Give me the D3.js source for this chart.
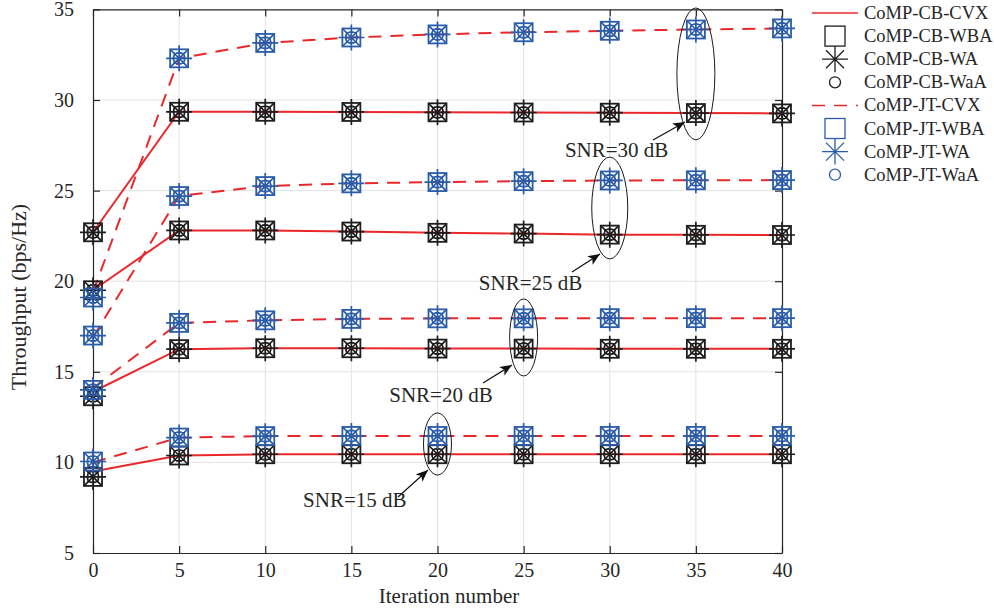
<!DOCTYPE html>
<html>
<head>
<meta charset="utf-8">
<script src="https://cdn.jsdelivr.net/npm/d3@7"></script>
<style>
  body { margin: 0; background: #fff; }
  svg text { font-family: "Liberation Serif", "Times New Roman", serif; fill: #262626; }
</style>
</head>
<body>
<svg id="chart" width="994" height="612"></svg>
<script>
// data (one row per SNR level: 15, 20, 25, 30 dB)
const iterations = [0, 5, 10, 15, 20, 25, 30, 35, 40]
const snrLevels = [15, 20, 25, 30]

const cbCvx = [
  [9.5, 10.38, 10.45, 10.45, 10.45, 10.45, 10.45, 10.45, 10.45],
  [13.9, 16.25, 16.3, 16.3, 16.28, 16.28, 16.27, 16.27, 16.27],
  [19.5, 22.8, 22.8, 22.74, 22.67, 22.63, 22.57, 22.56, 22.55],
  [22.7, 29.35, 29.35, 29.34, 29.32, 29.31, 29.3, 29.28, 29.26]
]
// CB-WBA / CB-WA / CB-WaA overlap at every point
const cbAlt = [
  [9.2, 10.38, 10.45, 10.45, 10.45, 10.45, 10.45, 10.45, 10.45],
  [13.65, 16.25, 16.3, 16.3, 16.28, 16.28, 16.27, 16.27, 16.27],
  [19.5, 22.8, 22.8, 22.74, 22.67, 22.63, 22.57, 22.56, 22.55],
  [22.7, 29.35, 29.35, 29.34, 29.32, 29.31, 29.3, 29.28, 29.26]
]
const jtCvx = [
  [10.0, 11.37, 11.45, 11.46, 11.46, 11.46, 11.46, 11.46, 11.46],
  [14.1, 17.7, 17.84, 17.92, 17.95, 17.95, 17.96, 17.96, 17.96],
  [16.9, 24.7, 25.25, 25.4, 25.47, 25.52, 25.56, 25.57, 25.58],
  [19.4, 32.3, 33.15, 33.45, 33.62, 33.74, 33.82, 33.89, 33.95]
]
// JT-WBA / JT-WA / JT-WaA
const jtAlt = [
  [10.05, 11.37, 11.45, 11.46, 11.46, 11.46, 11.46, 11.46, 11.46],
  [14.0, 17.7, 17.84, 17.92, 17.95, 17.95, 17.96, 17.96, 17.96],
  [17.0, 24.7, 25.25, 25.4, 25.47, 25.52, 25.56, 25.57, 25.58],
  [19.1, 32.3, 33.15, 33.45, 33.62, 33.74, 33.82, 33.89, 33.95]
]

const xTicks = [0, 5, 10, 15, 20, 25, 30, 35, 40]
const yTicks = [5, 10, 15, 20, 25, 30, 35]

const legendLabels = ['CoMP-CB-CVX', 'CoMP-CB-WBA', 'CoMP-CB-WA', 'CoMP-CB-WaA',
                      'CoMP-JT-CVX', 'CoMP-JT-WBA', 'CoMP-JT-WA', 'CoMP-JT-WaA']

const red = '#ea282b'
const black = '#1e1e1e'
const blue = '#2a5caa'
const axisColor = '#262626'
const gridColor = '#e3e3e3'

const svg = d3.select('#chart')
const plotLeft = 93, plotRight = 782, plotTop = 9.4, plotBottom = 553

const xScale = d3.scaleLinear().domain([0, 40]).range([plotLeft, plotRight])
const yScale = d3.scaleLinear().domain([5, 35]).range([plotBottom, plotTop])

// grid
svg.append('g').selectAll('line').data(xTicks.slice(1, -1)).enter().append('line')
  .attr('x1', d => xScale(d)).attr('x2', d => xScale(d))
  .attr('y1', plotTop).attr('y2', plotBottom)
  .attr('stroke', gridColor).attr('stroke-width', 1)
svg.append('g').selectAll('line').data(yTicks.slice(1, -1)).enter().append('line')
  .attr('x1', plotLeft).attr('x2', plotRight)
  .attr('y1', d => yScale(d)).attr('y2', d => yScale(d))
  .attr('stroke', gridColor).attr('stroke-width', 1)

// axes (ticks point inward)
const styleAxis = g => {
  g.selectAll('path.domain').attr('stroke', axisColor).attr('stroke-width', 1.2)
  g.selectAll('.tick line').attr('stroke', axisColor).attr('stroke-width', 1.2)
  g.selectAll('.tick text')
    .style('font-family', '"Liberation Serif", serif')
    .style('font-size', '20px').attr('fill', axisColor)
}
svg.append('g').attr('transform', `translate(0,${plotBottom})`)
  .call(d3.axisBottom(xScale).tickValues(xTicks).tickSize(-7).tickPadding(10).tickSizeOuter(0))
  .call(styleAxis)
svg.append('g').attr('transform', `translate(0,${plotTop})`)
  .call(d3.axisTop(xScale).tickValues(xTicks).tickSize(-7).tickFormat('').tickSizeOuter(0))
  .call(styleAxis)
svg.append('g').attr('transform', `translate(${plotLeft},0)`)
  .call(d3.axisLeft(yScale).tickValues(yTicks).tickSize(-7).tickPadding(19).tickSizeOuter(0))
  .call(styleAxis)
svg.append('g').attr('transform', `translate(${plotRight},0)`)
  .call(d3.axisRight(yScale).tickValues(yTicks).tickSize(-7).tickFormat('').tickSizeOuter(0))
  .call(styleAxis)

// lines
const line = d3.line().x((d, i) => xScale(iterations[i])).y(d => yScale(d))
const drawLines = (rows, dash) => {
  svg.append('g').selectAll('path').data(rows).enter().append('path')
    .attr('d', line)
    .attr('fill', 'none')
    .attr('stroke', red)
    .attr('stroke-width', 2)
    .attr('stroke-dasharray', dash)
}
drawLines(cbCvx, null)
drawLines(jtCvx, '13,9')

// markers: square (WBA), asterisk (WA), circle (WaA)
const drawMarker = (g, cx, cy, color) => {
  const s = 9
  g.append('rect').attr('x', cx - s).attr('y', cy - s).attr('width', 2 * s).attr('height', 2 * s)
    .attr('fill', 'none').attr('stroke', color).attr('stroke-width', 1.8)
  g.append('rect').attr('x', cx - 5).attr('y', cy - 5).attr('width', 10).attr('height', 10)
    .attr('fill', 'none').attr('stroke', color).attr('stroke-width', 1.1)
  const a = 13, b = 9
  const p = `M${cx - a},${cy}H${cx + a}M${cx},${cy - a}V${cy + a}` +
            `M${cx - b},${cy - b}L${cx + b},${cy + b}M${cx - b},${cy + b}L${cx + b},${cy - b}`
  g.append('path').attr('d', p).attr('stroke', color).attr('stroke-width', 1.7).attr('fill', 'none')
  g.append('circle').attr('cx', cx).attr('cy', cy).attr('r', 6)
    .attr('fill', 'none').attr('stroke', color).attr('stroke-width', 1.2)
}
const markerLayer = svg.append('g')
const drawSeriesMarkers = (rows, color) => {
  rows.forEach(row => row.forEach((v, i) => drawMarker(markerLayer, xScale(iterations[i]), yScale(v), color)))
}
drawSeriesMarkers(cbAlt, black)
drawSeriesMarkers(jtAlt, blue)

// annotations: ellipse around the SNR group, arrow and label
svg.append('defs').append('marker')
  .attr('id', 'arrow').attr('viewBox', '0 -5 12 10')
  .attr('refX', 12).attr('refY', 0)
  .attr('markerWidth', 12).attr('markerHeight', 10)
  .attr('markerUnits', 'userSpaceOnUse')
  .attr('orient', 'auto')
  .append('path').attr('d', 'M0,-5L12,0L0,5L3,0Z').attr('fill', '#111')

const annotations = [
  { snr: 15, cx: 20, hi: 12.73, lo: 9.3, rx: 14, tx: 15.2, ty: 7.54, from: [398, 497], to: [428, 470] },
  { snr: 20, cx: 25, hi: 19.02, lo: 14.77, rx: 14, tx: 20.2, ty: 13.33, from: [483, 383], to: [512, 365] },
  { snr: 25, cx: 30, hi: 26.85, lo: 21.23, rx: 18, tx: 25.4, ty: 19.5, from: [572, 272], to: [600, 254] },
  { snr: 30, cx: 35, hi: 35.08, lo: 27.8, rx: 19, tx: 30.4, ty: 26.86, from: [653, 140], to: [685, 122] }
]
const ann = svg.append('g')
annotations.forEach(a => {
  ann.append('ellipse')
    .attr('cx', xScale(a.cx))
    .attr('cy', (yScale(a.hi) + yScale(a.lo)) / 2)
    .attr('rx', a.rx)
    .attr('ry', (yScale(a.lo) - yScale(a.hi)) / 2)
    .attr('fill', 'none').attr('stroke', '#1a1a1a').attr('stroke-width', 1)
  ann.append('line')
    .attr('x1', a.from[0]).attr('y1', a.from[1])
    .attr('x2', a.to[0]).attr('y2', a.to[1])
    .attr('stroke', '#111').attr('stroke-width', 1.2)
    .attr('marker-end', 'url(#arrow)')
  ann.append('text')
    .attr('x', xScale(a.tx)).attr('y', yScale(a.ty))
    .attr('text-anchor', 'middle')
    .style('font-size', '21px')
    .text(`SNR=${a.snr} dB`)
})

// axis labels
svg.append('text')
  .attr('x', 449).attr('y', 603)
  .attr('text-anchor', 'middle')
  .style('font-size', '21px')
  .text('Iteration number')
svg.append('text')
  .attr('transform', 'translate(26,297) rotate(-90)')
  .attr('text-anchor', 'middle')
  .style('font-size', '22px')
  .text('Throughput (bps/Hz)')

// legend
const legend = svg.append('g')
const rowY = i => 13 + i * 23.1
legendLabels.forEach((label, i) => {
  const y = rowY(i)
  const color = i < 4 ? black : blue
  const kind = i % 4
  if (kind === 0) {
    legend.append('line').attr('x1', 812).attr('x2', 858).attr('y1', y).attr('y2', y)
      .attr('stroke', red).attr('stroke-width', 1.5)
      .attr('stroke-dasharray', i < 4 ? null : '13,9')
  } else if (kind === 1) {
    legend.append('rect').attr('x', 825).attr('y', y - 10).attr('width', 20).attr('height', 20)
      .attr('fill', 'none').attr('stroke', color).attr('stroke-width', 1.3)
  } else if (kind === 2) {
    const cx = 835, a = 13, b = 9
    legend.append('path')
      .attr('d', `M${cx - a},${y}H${cx + a}M${cx},${y - a}V${y + a}M${cx - b},${y - b}L${cx + b},${y + b}M${cx - b},${y + b}L${cx + b},${y - b}`)
      .attr('stroke', color).attr('stroke-width', 1.3).attr('fill', 'none')
  } else {
    legend.append('circle').attr('cx', 835).attr('cy', y).attr('r', 5.5)
      .attr('fill', 'none').attr('stroke', color).attr('stroke-width', 1.3)
  }
  legend.append('text').attr('x', 864).attr('y', y + 6)
    .style('font-size', '18.5px')
    .text(label)
})
</script>
</body>
</html>
